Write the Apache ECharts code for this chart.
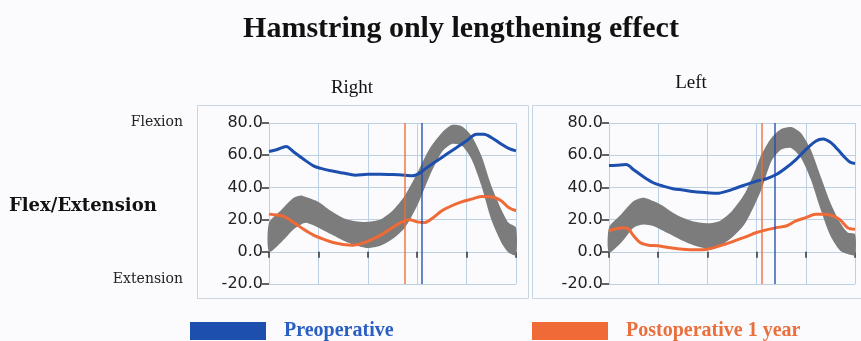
<!DOCTYPE html>
<html><head><meta charset="utf-8">
<script src="https://cdn.jsdelivr.net/npm/echarts@6/dist/echarts.min.js"></script>
<style>html,body{margin:0;padding:0;background:#fbfbfd}#c{width:861px;height:341px}</style>
</head><body><div id="c"></div>
<script>
// ---- Right panel data (% gait cycle vs knee angle, deg) ----
const bandRightX     = [0,5,10,13,15,20,25,30,35,40,45,50,55,60,65,70,74,78,82,86,90,94,97,100];
const bandRightUpper = [18,26,33.5,35,34,31,25.5,21,19,18.6,20,25.5,35,49,64,74,78.7,78,72,59.6,41,26.5,18,15];
const bandRightLower = [0,6,14,17,18,15,11,7,4,2.3,3.7,8,15,28.6,47,62,67,66,57.5,41,20,6,-0.4,-2];
const preRightX  = [0,3,7,10,14,18,21,25,30,35,40,45,50,55,58,61,64,68,72,76,80,84,87,90,94,97,100];
const preRightY  = [62.3,63.4,65.4,62,57.5,53.4,51.8,50.3,48.9,47.6,48.2,48.2,48,47.6,47.2,48.9,52.4,56.5,60.7,64.8,69,73,73,71,66.9,64.2,62.7];
const postRightX = [0,3,6,10,14,18,22,26,30,34,38,42,46,50,54,57,60,63,66,70,74,78,82,86,90,94,97,100];
const postRightY = [23.4,22.8,22,18.2,14,10.4,7.9,5.8,4.6,4.1,5.4,7.9,11,15.1,18.6,19.9,18.6,18.2,20.7,25.5,28.6,31,32.7,34.4,34.2,31.7,27.5,25.5];
const toeOffRight = {post: 55, pre: 61.7};

// ---- Left panel data ----
const bandLeftX     = [0,5,10,14,18,22,26,30,35,40,45,50,55,59,62,66,70,74,78,82,86,90,94,97,100];
const bandLeftUpper = [15,23.3,31.5,33.6,31.5,28.5,24.3,21.2,18.6,17.7,19.2,25.4,35.7,49,60.4,70.7,76.3,77.5,73.8,63.5,47,30.5,18,12,11];
const bandLeftLower = [-0.4,5.8,15,17,16,13,9.9,6.8,3.7,2,3.7,8.9,17,28.5,38.8,56.3,63.5,64.5,58.4,45,26.4,9.9,0.6,-1.4,-2];
const preLeftX  = [0,3,7,10,14,18,22,26,30,35,40,44,48,52,56,60,64,68,72,76,80,84,87,90,93,96,98,100];
const preLeftY  = [53.6,53.8,54.2,51,46.6,42.9,40.8,39.2,38.4,37.3,36.7,36.3,37.7,39.8,41.9,43.9,45.4,48,52.2,57.3,63.5,68.7,70.1,68,63.5,58.4,55.7,54.8];
const postLeftX = [0,3,6,8,10,13,16,20,25,30,35,40,45,50,55,60,64,68,72,76,80,84,88,91,94,97,100];
const postLeftY = [13,14.4,15,14,9.9,5.4,4.1,3.7,2.5,1.6,1.2,1.6,3.7,6.2,8.9,12,13.6,15,16,19.2,21.2,23.3,23.3,22.3,19.8,15,14];
const toeOffLeft = {post: 62, pre: 67.5};

const yTicks = {min: -20, max: 80, interval: 20};
const xTicks = {min: 0, max: 100, interval: 20};

const BLUE = '#1c4fae', ORANGE = '#ef6a36', GRAY = '#7c7c7c', GRID = '#bcd2e4';

function zip(xs, ys) { return xs.map((x, i) => [x, ys[i]]); }

function xAxisCfg(idx) {
  return {gridIndex: idx, type: 'value', min: xTicks.min, max: xTicks.max, interval: xTicks.interval,
    offset: 3, axisLine: {show: false}, axisLabel: {show: false},
    axisTick: {show: true, length: 6, lineStyle: {color: '#333', width: 1.5}},
    splitLine: {show: true, lineStyle: {color: GRID, width: 1}}};
}
function yAxisCfg(idx) {
  return {gridIndex: idx, type: 'value', min: yTicks.min, max: yTicks.max, interval: yTicks.interval,
    offset: 4, axisLine: {show: false},
    axisTick: {show: true, length: 7, lineStyle: {color: '#333', width: 1.5}},
    axisLabel: {margin: 2, color: '#222', fontSize: 16, fontFamily: 'DejaVu Sans, Verdana, sans-serif',
      formatter: v => v.toFixed(1)},
    splitLine: {show: true, lineStyle: {color: GRID, width: 1}}};
}
// normal range band: polygon upper (forward) + lower (backward), via axis coords
function bandSeries(idx, xs, lo, hi) {
  return {type: 'custom', xAxisIndex: idx, yAxisIndex: idx, silent: true, z: 1,
    data: xs.map((x, i) => [x, lo[i], hi[i]]),
    encode: {x: 0, y: [1, 2]},
    renderItem: function (params, api) {
      if (params.dataIndex !== 0) return null;
      const pts = [];
      for (let i = 0; i < xs.length; i++) pts.push(api.coord([xs[i], hi[i]]));
      for (let i = xs.length - 1; i >= 0; i--) pts.push(api.coord([xs[i], lo[i]]));
      return {type: 'polygon', shape: {points: pts, smooth: 0.25},
        style: {fill: GRAY, stroke: null}};
    }};
}
function curve(idx, name, color, xs, ys, toeOff) {
  return {type: 'line', name, xAxisIndex: idx, yAxisIndex: idx, smooth: 0.3, symbol: 'none',
    lineStyle: {color, width: 3}, itemStyle: {color}, data: zip(xs, ys), z: 3,
    markLine: {silent: true, symbol: 'none', label: {show: false},
      lineStyle: {color, width: 1.6, type: 'solid', opacity: 0.85}, data: [{xAxis: toeOff}]}};
}

const chart = echarts.init(document.getElementById('c'), null, {renderer: 'canvas'});
chart.setOption({
  backgroundColor: '#fbfbfd',
  animation: false,
  title: [
    {text: 'Hamstring only lengthening effect', left: 456, top: 9, textAlign: 'center',
      textStyle: {fontFamily: 'Liberation Serif, Times New Roman, serif', fontWeight: 'bold', fontSize: 30, color: '#111'}},
    {text: 'Right', left: 347, top: 74, textAlign: 'center',
      textStyle: {fontFamily: 'Liberation Serif, serif', fontWeight: 'normal', fontSize: 19, color: '#111'}},
    {text: 'Left', left: 686, top: 69, textAlign: 'center',
      textStyle: {fontFamily: 'Liberation Serif, serif', fontWeight: 'normal', fontSize: 19, color: '#111'}}
  ],
  legend: [
    {data: ['Preoperative'], left: 190, top: 321, padding: 0, icon: 'rect', itemWidth: 76, itemHeight: 18,
      textStyle: {color: '#2a5fc2', fontFamily: 'Liberation Serif, serif', fontWeight: 'bold', fontSize: 20, padding: [0, 0, 0, 13]}},
    {data: ['Postoperative 1 year'], left: 532, top: 321, padding: 0, icon: 'rect', itemWidth: 76, itemHeight: 18,
      textStyle: {color: '#ea6f3c', fontFamily: 'Liberation Serif, serif', fontWeight: 'bold', fontSize: 20, padding: [0, 0, 0, 13]}}
  ],
  graphic: [
    {type: 'rect', shape: {x: 197.5, y: 105.5, width: 331, height: 193}, style: {fill: 'none', stroke: '#c9d6e2', lineWidth: 1}, z: -1},
    {type: 'rect', shape: {x: 532.5, y: 105.5, width: 340, height: 193}, style: {fill: 'none', stroke: '#c9d6e2', lineWidth: 1}, z: -1},
    {type: 'text', x: 183, y: 122, style: {text: 'Flexion', font: '14px DejaVu Serif, serif', fill: '#222', align: 'right', verticalAlign: 'middle'}},
    {type: 'text', x: 183, y: 279, style: {text: 'Extension', font: '14px DejaVu Serif, serif', fill: '#222', align: 'right', verticalAlign: 'middle'}},
    {type: 'text', x: 9, y: 206, style: {text: 'Flex/Extension', font: 'bold 18px DejaVu Serif, serif', fill: '#111', align: 'left', verticalAlign: 'middle'}}
  ],
  grid: [
    {left: 269, top: 123, width: 247, height: 161},
    {left: 609, top: 123, width: 246, height: 161}
  ],
  xAxis: [xAxisCfg(0), xAxisCfg(1)],
  yAxis: [yAxisCfg(0), yAxisCfg(1)],
  series: [
    bandSeries(0, bandRightX, bandRightLower, bandRightUpper),
    bandSeries(1, bandLeftX, bandLeftLower, bandLeftUpper),
    curve(0, 'Preoperative', BLUE, preRightX, preRightY, toeOffRight.pre),
    curve(0, 'Postoperative 1 year', ORANGE, postRightX, postRightY, toeOffRight.post),
    curve(1, 'Preoperative', BLUE, preLeftX, preLeftY, toeOffLeft.pre),
    curve(1, 'Postoperative 1 year', ORANGE, postLeftX, postLeftY, toeOffLeft.post)
  ]
});
</script></body></html>
